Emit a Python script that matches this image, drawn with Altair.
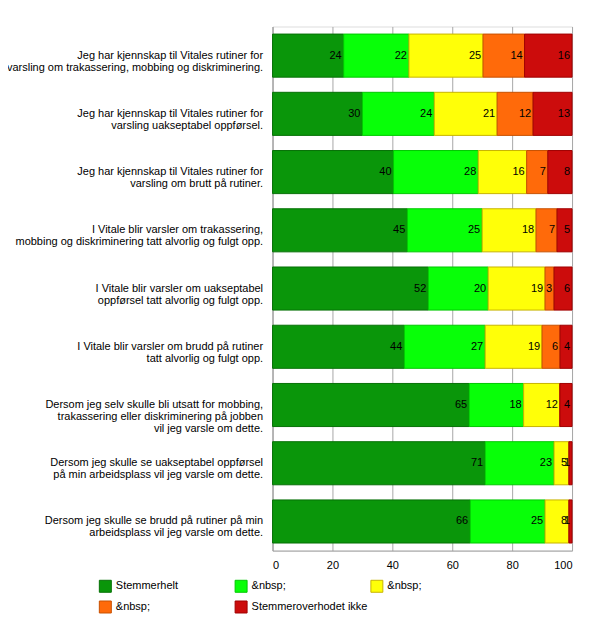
import altair as alt
import pandas as pd

questions = [
    "Jeg har kjennskap til Vitales rutiner for|varsling om trakassering, mobbing og diskriminering.",
    "Jeg har kjennskap til Vitales rutiner for|varsling uakseptabel oppførsel.",
    "Jeg har kjennskap til Vitales rutiner for|varsling om brutt på rutiner.",
    "I Vitale blir varsler om trakassering,|mobbing og diskriminering tatt alvorlig og fulgt opp.",
    "I Vitale blir varsler om uakseptabel|oppførsel tatt alvorlig og fulgt opp.",
    "I Vitale blir varsler om brudd på rutiner|tatt alvorlig og fulgt opp.",
    "Dersom jeg selv skulle bli utsatt for mobbing,|trakassering eller diskriminering på jobben|vil jeg varsle om dette.",
    "Dersom jeg skulle se uakseptabel oppførsel|på min arbeidsplass vil jeg varsle om dette.",
    "Dersom jeg skulle se brudd på rutiner på min|arbeidsplass vil jeg varsle om dette.",
]
cat_keys = ["1", "2", "3", "4", "5"]
cat_labels = ["Stemmerhelt", "&nbsp;", "&nbsp;", "&nbsp;", "Stemmeroverhodet ikke"]
fills = ["#0a960a", "#08ff08", "#ffff08", "#ff6a0a", "#cc0c0c"]
strokes = ["#067006", "#00c800", "#c8b400", "#c85000", "#a00000"]

s1 = [24, 30, 40, 45, 52, 44, 65, 71, 66]
s2 = [22, 24, 28, 25, 20, 27, 18, 23, 25]
s3 = [25, 21, 16, 18, 19, 19, 12, 5, 8]
s4 = [14, 12, 7, 7, 3, 6, 0, 0, 0]
s5 = [16, 13, 8, 5, 6, 4, 4, 1, 1]
series = [s1, s2, s3, s4, s5]

rows = []
for qi, q in enumerate(questions):
    for ci, k in enumerate(cat_keys):
        rows.append({"q": q, "cat": k, "order": ci, "v": series[ci][qi]})
df = pd.DataFrame(rows)

label_expr = " : ".join(
    f"datum.value == '{k}' ? '{l}'" for k, l in zip(cat_keys[:-1], cat_labels[:-1])
) + f" : '{cat_labels[-1]}'"

FONT = "Liberation Sans"

base = alt.Chart(df).transform_stack(
    stack="v", groupby=["q"], as_=["s0", "s1"], offset="normalize",
    sort=[alt.SortField("order", order="ascending")],
)

y = alt.Y("q:N", sort=questions, title=None,
          scale=alt.Scale(paddingInner=0.26, paddingOuter=0.13),
          axis=alt.Axis(labelExpr="split(datum.value, '|')", labelFont=FONT,
                        labelFontSize=11, labelColor="#000000", labelLineHeight=12,
                        labelPadding=10, ticks=False, domainColor="#a0a0a0",
                        labelLimit=400, grid=False))

color_scale = alt.Scale(domain=cat_keys, range=fills)
stroke_scale = alt.Scale(domain=cat_keys, range=strokes)
legend = alt.Legend(title=None, orient="none", legendX=-174, legendY=554,
                    direction="horizontal",
                    columns=3, gridAlign="all", columnPadding=0, rowPadding=4,
                    symbolType="square", symbolSize=144, symbolStrokeWidth=1,
                    labelFont=FONT, labelFontSize=11, labelColor="#000000",
                    labelOffset=4, labelExpr=label_expr)

bars = base.mark_bar(strokeWidth=1, opacity=1).encode(
    y=y,
    x=alt.X("s0:Q", title=None, scale=alt.Scale(domain=[0, 1], nice=False),
            axis=alt.Axis(values=[0, 0.2, 0.4, 0.6, 0.8, 1.0],
                          labelExpr="format(datum.value*100, 'd')",
                          labelFont=FONT, labelFontSize=11, labelColor="#000000",
                          labelPadding=9, ticks=False, domainColor="#a0a0a0",
                          gridColor="#a8a8a8", gridOpacity=1)),
    x2="s1:Q",
    fill=alt.Fill("cat:N", scale=color_scale, legend=legend),
    stroke=alt.Stroke("cat:N", scale=stroke_scale, legend=legend),
    order=alt.Order("order:Q"),
)

text = base.transform_filter("datum.v > 0").mark_text(
    align="right", baseline="middle", dx=-2, font=FONT, fontSize=11, color="#000000"
).encode(
    y=alt.Y("q:N", sort=questions),
    x=alt.X("s1:Q"),
    text=alt.Text("v:Q"),
)

chart = alt.layer(bars, text).properties(
    width=300, height=525,
    autosize=alt.AutoSizeParams(type="none"),
    padding={"left": 265, "top": 18, "right": 20, "bottom": 70},
).configure_view(stroke="#a0a0a0").configure(background="#ffffff")

chart.save("out.html", embed_options={"renderer": "svg", "actions": False})
